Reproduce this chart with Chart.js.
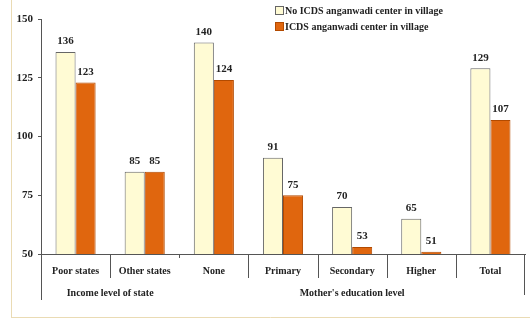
<!DOCTYPE html>
<html>
<head>
<meta charset="utf-8">
<script src="https://cdn.jsdelivr.net/npm/chart.js@4"></script>
<style>
  html, body { margin: 0; padding: 0; background: #fff; }
  #wrap { width: 530px; height: 319px; }
</style>
</head>
<body>
<div id="wrap"><canvas id="myChart" width="530" height="319"></canvas></div>
<script>
const categories = ['Poor states', 'Other states', 'None', 'Primary', 'Secondary', 'Higher', 'Total'];
const noIcds = [136, 85, 140, 91, 70, 65, 129];
const icds = [123, 85, 124, 75, 53, 51, 107];
const seriesNames = ['No ICDS anganwadi center in village', 'ICDS anganwadi center in village'];
const groupLabels = ['Income level of state', "Mother's education level"];
const groupSpans = [[0, 1], [2, 6]];
const yTicks = [50, 75, 100, 125, 150];

const serif = '"Liberation Serif", "DejaVu Serif", serif';
const cream = '#fffbd4';
const orange = '#e0660e';

const extras = {
  id: 'extras',
  afterDatasetsDraw(chart) {
    const ctx = chart.ctx;
    const area = chart.chartArea;
    const x = chart.scales.x;
    ctx.save();

    // value labels over bars
    ctx.font = 'bold 11px ' + serif;
    ctx.fillStyle = '#222';
    ctx.textAlign = 'center';
    ctx.textBaseline = 'bottom';
    chart.data.datasets.forEach((ds, i) => {
      chart.getDatasetMeta(i).data.forEach((bar, j) => {
        ctx.fillText(ds.data[j], bar.x, bar.y - 5);
      });
    });

    // separators under the axis
    const half = (x.getPixelForValue(1) - x.getPixelForValue(0)) / 2;
    ctx.strokeStyle = '#555';
    ctx.lineWidth = 1;
    ctx.beginPath();
    [0, 2, 3, 4, 5].forEach(i => {
      const px = Math.round(x.getPixelForValue(i) + half) + 0.5;
      ctx.moveTo(px, area.bottom);
      ctx.lineTo(px, area.bottom + 24);
    });
    const mid = Math.round(x.getPixelForValue(1) + half) + 0.5;
    ctx.moveTo(mid, area.bottom);
    ctx.lineTo(mid, area.bottom + 4);
    ctx.moveTo(Math.round(area.right) - 0.5, area.bottom);
    ctx.lineTo(Math.round(area.right) - 0.5, area.bottom + 41);
    ctx.moveTo(Math.round(area.left) + 0.5, area.bottom);
    ctx.lineTo(Math.round(area.left) + 0.5, area.bottom + 46);
    ctx.stroke();

    // group labels
    ctx.font = 'bold 10px ' + serif;
    ctx.fillStyle = '#222';
    ctx.textBaseline = 'middle';
    groupLabels.forEach((g, i) => {
      const a = x.getPixelForValue(groupSpans[i][0]) - half;
      const b = x.getPixelForValue(groupSpans[i][1]) + half;
      ctx.fillText(g, (a + b) / 2, area.bottom + 39);
    });

    // legend
    ctx.textAlign = 'left';
    [cream, orange].forEach((c, i) => {
      const ly = 11 + i * 16;
      ctx.fillStyle = c;
      ctx.fillRect(275.5, ly - 4.5, 8, 8);
      ctx.strokeStyle = i === 0 ? '#666' : '#b24a00';
      ctx.strokeRect(275.5, ly - 4.5, 8, 8);
      ctx.fillStyle = '#222';
      ctx.fillText(seriesNames[i], 285, ly);
    });

    // faint scan edges
    ctx.strokeStyle = '#eadbb4';
    ctx.beginPath();
    ctx.moveTo(11.5, 0);
    ctx.lineTo(11.5, 317);
    ctx.moveTo(11, 317.5);
    ctx.lineTo(530, 317.5);
    ctx.stroke();
    ctx.restore();
  }
};

const ctx = document.getElementById('myChart').getContext('2d');
const myChart = new Chart(ctx, {
  type: 'bar',
  data: {
    labels: categories,
    datasets: [
      {
        label: seriesNames[0],
        data: noIcds,
        backgroundColor: cream,
        borderColor: '#666',
        borderWidth: 1
      },
      {
        label: seriesNames[1],
        data: icds,
        backgroundColor: orange,
        borderColor: '#b24a00',
        borderWidth: 1
      }
    ]
  },
  options: {
    responsive: false,
    animation: false,
    layout: { padding: { top: 19, right: 5, left: 0, bottom: 0 } },
    categoryPercentage: 0.58,
    barPercentage: 1,
    plugins: {
      legend: { display: false },
      tooltip: { enabled: false }
    },
    scales: {
      x: {
        afterFit: s => { s.height = 65; },
        grid: { display: false, drawTicks: false },
        border: { display: true, color: '#555', width: 1 },
        ticks: {
          padding: 11,
          color: '#222',
          font: { family: serif, size: 10, weight: 'bold' }
        }
      },
      y: {
        min: 50,
        max: 150,
        afterFit: s => { s.width = 41; },
        afterBuildTicks: s => { s.ticks = yTicks.map(v => ({ value: v })); },
        grid: { drawOnChartArea: false, tickLength: 3, color: '#555' },
        border: { display: true, color: '#555', width: 1 },
        ticks: {
          padding: 5,
          color: '#222',
          font: { family: serif, size: 11, weight: 'bold' }
        }
      }
    }
  },
  plugins: [extras]
});
</script>
</body>
</html>
